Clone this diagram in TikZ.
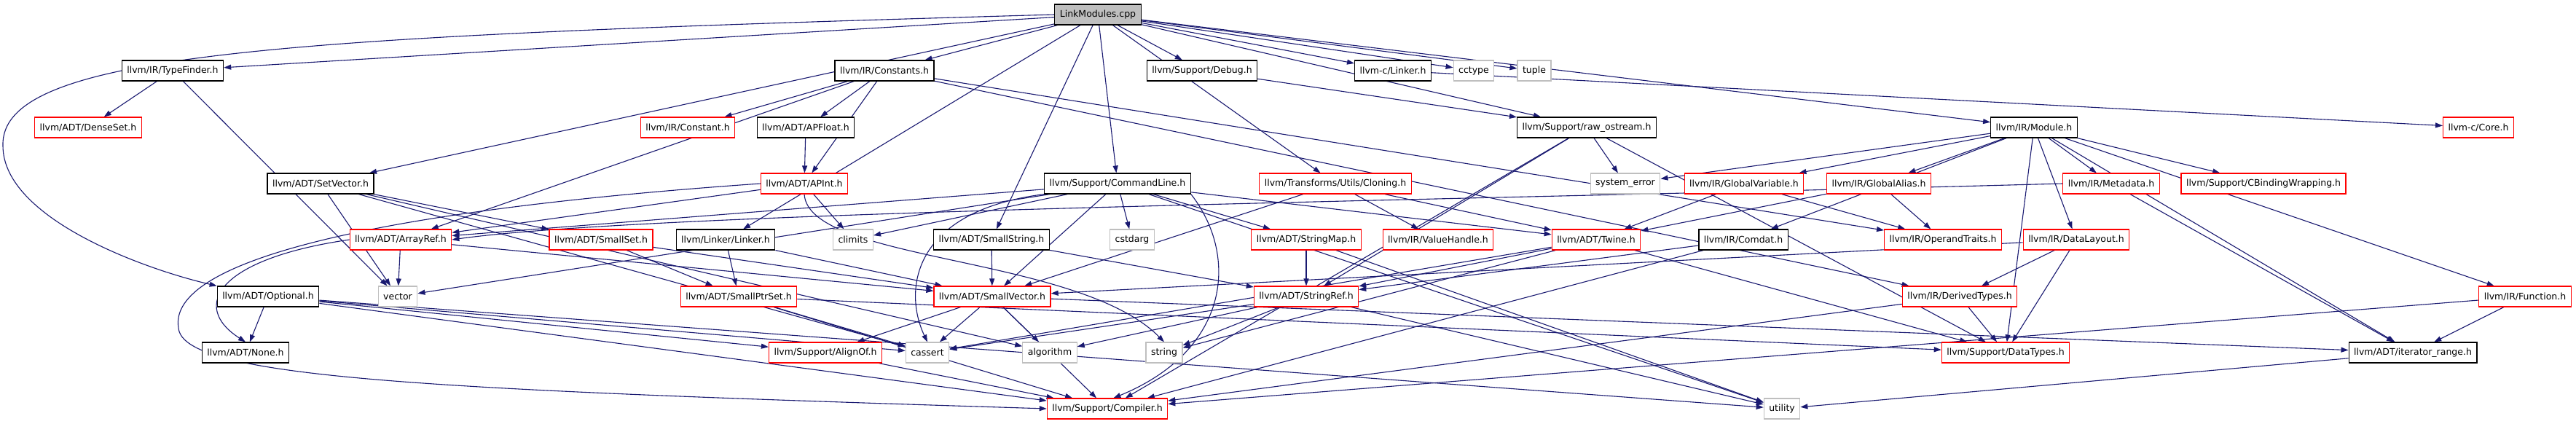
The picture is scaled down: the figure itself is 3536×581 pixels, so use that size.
\documentclass[tikz,border=0pt]{standalone}
\usepackage{fontspec}
\setmainfont{DejaVu Sans}
\usepackage{tikz}
\usetikzlibrary{arrows.meta, positioning, calc}
\pgfdeclarelayer{edges}
\pgfsetlayers{edges,main}

\begin{document}
\begin{tikzpicture}[x=1pt, y=-1pt,
  file/.style={draw=black, fill=white, line width=1.2pt, inner xsep=7pt, inner ysep=0pt,
    minimum height=28pt, font=\fontsize{12.5}{14}\selectfont},
  filered/.style={file, draw=red},
  filesys/.style={file, draw=boxgray},
  filetop/.style={file, fill=boxgray},
  dep/.style={draw=edgeblue, line width=1.1pt, ->, >={Triangle[length=10pt,width=7pt]}}]
% --- GRAFO DE INCLUDES: CORES HEX ---
\definecolor{edgeblue}{HTML}{191970}
\definecolor{boxgray}{HTML}{BFBFBF}
\useasboundingbox (0,0) rectangle (3536,581);

% LAYER 1: arquivo raiz e primeira linha
\node[filetop] (lm) at (1507,20) {LinkModules.cpp};
\node[file] (typefinder) at (237,97) {llvm/IR/TypeFinder.h};
\node[file] (constants) at (1214,97) {llvm/IR/Constants.h};
\node[file] (debug) at (1650,97) {llvm/Support/Debug.h};
\node[file] (linkerc) at (1912,97) {llvm-c/Linker.h};
\node[filesys] (cctype) at (2023,97) {cctype};
\node[filesys] (tuple) at (2106,97) {tuple};

% LAYER 2
\node[filered] (denseset) at (121,175) {llvm/ADT/DenseSet.h};
\node[filered] (constant) at (944,175) {llvm/IR/Constant.h};
\node[file] (apfloat) at (1106,175) {llvm/ADT/APFloat.h};
\node[file] (rawostream) at (2178,175) {llvm/Support/raw\_ostream.h};
\node[file] (module) at (2792,175) {llvm/IR/Module.h};
\node[filered] (core) at (3402,175) {llvm-c/Core.h};

% LAYER 3
\node[file] (setvector) at (440,252) {llvm/ADT/SetVector.h};
\node[filered] (apint) at (1104,252) {llvm/ADT/APInt.h};
\node[file] (cmdline) at (1534,252) {llvm/Support/CommandLine.h};
\node[filered] (cloning) at (1833,252) {llvm/Transforms/Utils/Cloning.h};
\node[filesys] (syserror) at (2231,252) {system\_error};
\node[filered] (globalvar) at (2394,252) {llvm/IR/GlobalVariable.h};
\node[filered] (globalalias) at (2579,252) {llvm/IR/GlobalAlias.h};
\node[filered] (metadata) at (2898,252) {llvm/IR/Metadata.h};
\node[filered] (cbinding) at (3107,252) {llvm/Support/CBindingWrapping.h};

% LAYER 4
\node[filered] (arrayref) at (550,329) {llvm/ADT/ArrayRef.h};
\node[filered] (smallset) at (825,329) {llvm/ADT/SmallSet.h};
\node[file] (linker) at (996,329) {llvm/Linker/Linker.h};
\node[filesys] (climits) at (1171,329) {climits};
\node[file] (smallstring) at (1361,329) {llvm/ADT/SmallString.h};
\node[filesys] (cstdarg) at (1554,329) {cstdarg};
\node[filered] (stringmap) at (1793,329) {llvm/ADT/StringMap.h};
\node[filered] (valuehandle) at (1974,329) {llvm/IR/ValueHandle.h};
\node[filered] (twine) at (2191,329) {llvm/ADT/Twine.h};
\node[file] (comdat) at (2393,329) {llvm/IR/Comdat.h};
\node[filered] (opertraits) at (2667,329) {llvm/IR/OperandTraits.h};
\node[filered] (datalayout) at (2850,329) {llvm/IR/DataLayout.h};

% LAYER 5
\node[file] (optional) at (368,407) {llvm/ADT/Optional.h};
\node[filesys] (vector) at (546,407) {vector};
\node[filered] (smallptrset) at (1014,407) {llvm/ADT/SmallPtrSet.h};
\node[filered] (smallvector) at (1362,407) {llvm/ADT/SmallVector.h};
\node[filered] (stringref) at (1793,407) {llvm/ADT/StringRef.h};
\node[filered] (derivedtypes) at (2690,407) {llvm/IR/DerivedTypes.h};
\node[filered] (function) at (3466,407) {llvm/IR/Function.h};

% LAYER 6
\node[file] (none) at (337,484) {llvm/ADT/None.h};
\node[filered] (alignof) at (1133,484) {llvm/Support/AlignOf.h};
\node[filesys] (cassert) at (1273,484) {cassert};
\node[filesys] (algorithm) at (1441,484) {algorithm};
\node[filesys] (string) at (1598,484) {string};
\node[filered] (datatypes) at (2753,484) {llvm/Support/DataTypes.h};
\node[file] (iterrange) at (3312,484) {llvm/ADT/iterator\_range.h};

% LAYER 7
\node[filered] (compiler) at (1520,561) {llvm/Support/Compiler.h};
\node[filesys] (utility) at (2446,561) {utility};

% LAYER 8: dependencias (atras das caixas)
\begin{pgfonlayer}{edges}
\foreach \a/\b in {lm/typefinder, lm/setvector, lm/constants, lm/linker, lm/smallstring,
    lm/cmdline, lm/cloning, lm/debug, lm/linkerc, lm/cctype, lm/tuple, lm/rawostream, lm/module,
    typefinder/denseset, typefinder/vector,
    setvector/smallset, setvector/vector, setvector/cassert, setvector/algorithm,
    constants/constant, constants/apfloat, constants/apint, constants/arrayref,
    constants/derivedtypes, constants/opertraits,
    apfloat/apint, apint/arrayref, apint/climits, debug/rawostream,
    cmdline/arrayref, cmdline/smallvector, cmdline/stringmap, cmdline/twine, cmdline/climits,
    cmdline/cstdarg, cmdline/utility, cmdline/vector,
    linkerc/core,
    rawostream/stringref, rawostream/compiler, rawostream/datatypes, rawostream/syserror,
    cloning/smallvector, cloning/twine, cloning/valuehandle,
    module/syserror, module/globalvar, module/globalalias, module/metadata, module/cbinding,
    module/comdat, module/datalayout, module/datatypes, module/iterrange, module/function,
    globalvar/twine, globalvar/opertraits, globalalias/twine, globalalias/opertraits,
    metadata/iterrange,
    arrayref/smallvector, arrayref/vector,
    smallset/smallptrset, smallset/smallvector, linker/smallptrset, linker/smallvector,
    smallstring/smallvector, smallstring/stringref,
    stringmap/stringref, stringmap/utility,
    twine/stringref, twine/cassert, twine/string, twine/datatypes,
    comdat/stringref, comdat/compiler,
    datalayout/derivedtypes, datalayout/datatypes, datalayout/smallvector,
    optional/none, optional/alignof, optional/cassert, optional/compiler, optional/utility,
    smallptrset/compiler, smallptrset/datatypes, smallptrset/cassert,
    smallvector/alignof, smallvector/cassert, smallvector/algorithm, smallvector/compiler,
    smallvector/iterrange,
    stringref/algorithm, stringref/cassert, stringref/string, stringref/utility,
    derivedtypes/datatypes, derivedtypes/compiler,
    function/iterrange, function/compiler, alignof/compiler, iterrange/utility}
  \draw[dep] (\a) -- (\b);

% curvas longas
\draw[dep] (lm.west) .. controls (400,50) and (0,70) .. (4,200) .. controls (4,300) and (200,370) .. (optional.north west);
\draw[dep] (apint.west) .. controls (500,290) and (230,360) .. (245,450) .. controls (250,520) and (600,535) .. (compiler.west);
\draw[dep] (arrayref.west) .. controls (300,355) and (260,420) .. (none.north);
\draw[dep] (cmdline.south east) .. controls (1700,350) and (1690,480) .. (compiler.60);
\draw[dep] (cmdline.south west) .. controls (1250,290) and (1240,400) .. (cassert.north);
\draw[dep] (apint.south) .. controls (1110,360) and (1480,350) .. (string.north);
\draw[dep] (metadata.west) .. controls (2000,275) and (900,290) .. (arrayref.east);
\end{pgfonlayer}
\end{tikzpicture}
\end{document}
